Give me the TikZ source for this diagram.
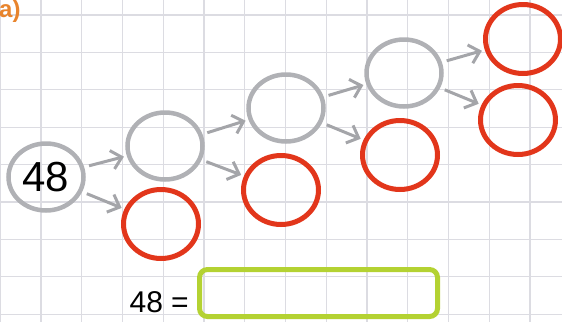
\documentclass[tikz,border=0pt]{standalone}
\usepackage{fontspec}
\setmainfont{Liberation Sans}
\usetikzlibrary{arrows.meta,shapes.geometric,positioning}
\definecolor{gridcolor}{HTML}{DCDCE2}
\definecolor{circgray}{HTML}{B0B1B5}
\definecolor{circred}{HTML}{E2361B}
\definecolor{boxgreen}{HTML}{B4D232}
\definecolor{labelorange}{HTML}{E8842C}
\definecolor{arrgray}{HTML}{A4A5A9}
\tikzset{
    graycirc/.style={ellipse, draw=circgray, line width=4.5pt, minimum width=75pt, minimum height=67pt, inner sep=0pt},
    redcirc/.style={ellipse, draw=circred, line width=5pt, minimum width=75pt, minimum height=69pt, inner sep=0pt},
    arr/.style={draw=arrgray, line width=3pt, -{Straight Barb[length=10pt,width=19pt,line width=3pt]}, shorten <=5pt, shorten >=3pt}
}

\begin{document}
\begin{tikzpicture}[x=1pt, y=-1pt]
    \useasboundingbox (0,0) rectangle (562,322);
    % Grid
    \foreach \k in {0,...,13} {
        \draw[gridcolor, line width=1.2pt] (0.25+40.75*\k,0) -- (0.25+40.75*\k,322);
    }
    \foreach \k in {0,...,8} {
        \draw[gridcolor, line width=1.2pt] (0,15+37.4*\k) -- (562,15+37.4*\k);
    }

    % Label
    \node[anchor=base west, inner sep=0pt, text=labelorange, font=\fontsize{24}{24}\selectfont\bfseries] (lbl) at (-1,17.5) {a)};

    % Circles
    \node[graycirc, font=\fontsize{42}{42}\selectfont] (n48) at (46,177) {48};
    \node[graycirc] (g1) at (165,146) {};
    \node[redcirc]  (r1) at (161,224) {};
    \node[graycirc] (g2) at (286,108) {};
    \node[redcirc]  (r2) at (281,190) {};
    \node[graycirc] (g3) at (404,73) {};
    \node[redcirc]  (r3) at (400,155) {};
    \node[redcirc]  (r4) at (523,39) {};
    \node[redcirc]  (r5) at (518,120) {};

    % Arrows
    \draw[arr] (n48) -- (g1);
    \draw[arr] (n48) -- (r1);
    \draw[arr] (g1) -- (g2);
    \draw[arr] (g1) -- (r2);
    \draw[arr] (g2) -- (g3);
    \draw[arr] (g2) -- (r3);
    \draw[arr] (g3) -- (r4);
    \draw[arr] (g3) -- (r5);

    % Answer line
    \node[draw=boxgreen, line width=5pt, rounded corners=8pt, minimum width=238pt, minimum height=47pt, inner sep=0pt] (ans) at (318.5,293) {};
    \node[anchor=base east, inner sep=0pt, font=\fontsize{30}{30}\selectfont] (eq) at (189,312) {48 =};
\end{tikzpicture}
\end{document}
